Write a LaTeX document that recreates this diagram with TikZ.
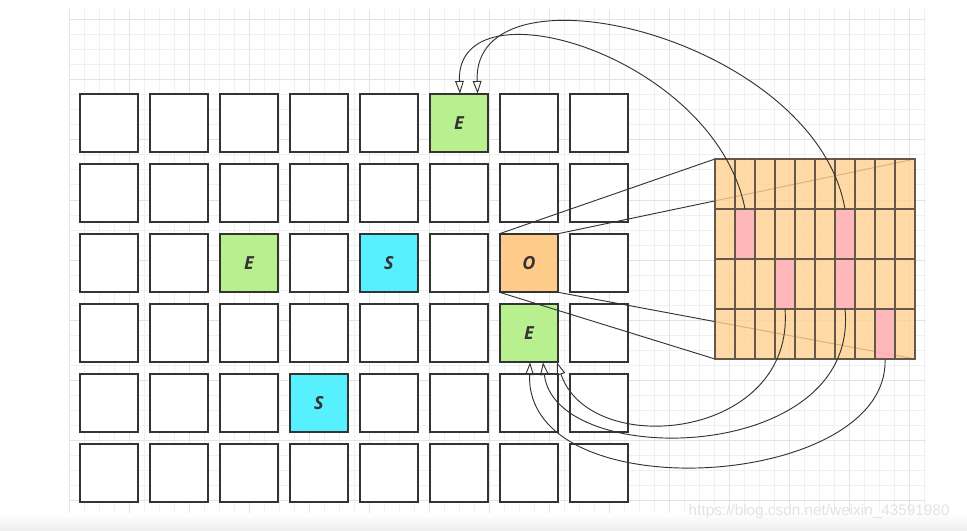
\documentclass[tikz,border=0pt]{standalone}
\usepackage{fontspec}
\setmainfont{Open Sans}
\newfontfamily\wmfont{Liberation Sans}
\usepackage{tikz}
\usetikzlibrary{
  arrows.meta,
  positioning
}
\definecolor{gdgreen} {HTML}{B9F08F}
\definecolor{gdcyan}  {HTML}{57F0FF}
\definecolor{gdorange}{HTML}{FFCB8A}
\definecolor{gdpeach} {HTML}{FFD090}
\definecolor{gdpink}  {HTML}{FFB0BE}
\definecolor{gdline}  {HTML}{333333}
\definecolor{gdbrown} {HTML}{65574A}
\definecolor{gdminor} {HTML}{F0F0F0}
\definecolor{gdmajor} {HTML}{E3E3E3}

\begin{document}
\begin{tikzpicture}[
  x=0.75pt, y=-0.75pt,
  every node/.style={font=\bfseries\itshape\fontsize{13.5}{15}\selectfont, text=gdline},
  cell/.style={
    rectangle, minimum size=44pt, inner sep=0pt, outer sep=0pt,
    draw=gdline, line width=1.5pt, fill=white
  },
  goal/.style={cell, fill=gdgreen},
  src/.style={cell, fill=gdcyan},
  obs/.style={cell, fill=gdorange},
  zoomarea/.style={rectangle, minimum size=150pt, inner sep=0pt, outer sep=0pt},
  hit/.style={
    rectangle, minimum width=15pt, minimum height=37.5pt, inner sep=0pt,
    outer sep=0pt, fill=gdpink, fill opacity=0.8
  },
  sub/.style={draw=gdbrown, line width=1.1pt},
  minor/.style={draw=gdminor, line width=0.75pt},
  major/.style={draw=gdmajor, line width=0.75pt},
  ray/.style={draw=gdline, line width=0.7pt},
  arr/.style={-{Triangle[open, length=9.5pt, width=6.5pt]}, draw=gdline, line width=0.7pt},
  wmark/.style={font=\wmfont\fontsize{11.5}{13}\selectfont, text=black!11},
]
\useasboundingbox[fill=white] (0,0) rectangle (967,531);
\shade[top color=white, bottom color=black!7] (0,513) rectangle (967,531);

% Background grid
\foreach \gx in {69,84,...,924} \draw[minor] (\gx,9) -- (\gx,513);
\foreach \gy in {20,35,...,500} \draw[minor] (69,\gy) -- (926,\gy);
\foreach \gx in {69,129,...,909} \draw[major] (\gx,9) -- (\gx,513);
\foreach \gy in {20,80,...,500} \draw[major] (69,\gy) -- (926,\gy);

% Board
\foreach \c in {0,...,7}
  \foreach \r in {0,...,5}
    \node[cell] (c\c\r) at ({109+70*\c},{123+70*\r}) {};

\node[goal] (e1) at (c50) {E};
\node[goal] (e2) at (c22) {E};
\node[src]  (s1) at (c42) {S};
\node[obs]  (o)  at (c62) {O};
\node[goal] (e3) at (c63) {E};
\node[src]  (s2) at (c34) {S};

% Zoomed cell
\node[zoomarea] (zoom) at (815,259) {};
\draw[ray] (o.north west) -- (zoom.north west);
\draw[ray] (o.north east) -- (zoom.north east);
\draw[ray] (o.south east) -- (zoom.south east);
\draw[ray] (o.south west) -- (zoom.south west);
\fill[gdpeach, fill opacity=0.8] (zoom.north west) rectangle (zoom.south east);

\node[hit] (h1) at (745,234) {};
\node[hit] (h2) at (845,234) {};
\node[hit] (h3) at (785,284) {};
\node[hit] (h4) at (845,284) {};
\node[hit] (h5) at (885,334) {};

\foreach \k in {1,...,9}
  \draw[sub] ([xshift=\k*15pt]zoom.north west) -- ([xshift=\k*15pt]zoom.south west);
\foreach \k in {1,2,3}
  \draw[sub] ([yshift=-\k*37.5pt]zoom.north west) -- ([yshift=-\k*37.5pt]zoom.north east);
\draw[sub] (zoom.north west) rectangle (zoom.south east);

% Arrows back to the goals
\draw[arr] (h1.north) .. controls +(-30,-154) and +(-5,-115) .. ([xshift=0.75pt]e1.north);
\draw[arr] (h2.north) .. controls +(-30,-172) and +(-6,-138) .. ([xshift=14pt]e1.north);
\draw[arr] (h3.south) .. controls +(10,131) and +(33,98) .. ([xshift=21pt]e3.south);
\draw[arr] (h4.south) .. controls +(15,156) and +(12,108) .. ([xshift=10.5pt]e3.south);
\draw[arr] (h5.south) .. controls +(5,131) and +(-5,150) .. ([xshift=0.75pt]e3.south);

\node[wmark, anchor=west] (wm) at (684,512) {https://blog.csdn.net/weixin\_43591980};
\end{tikzpicture}
\end{document}
